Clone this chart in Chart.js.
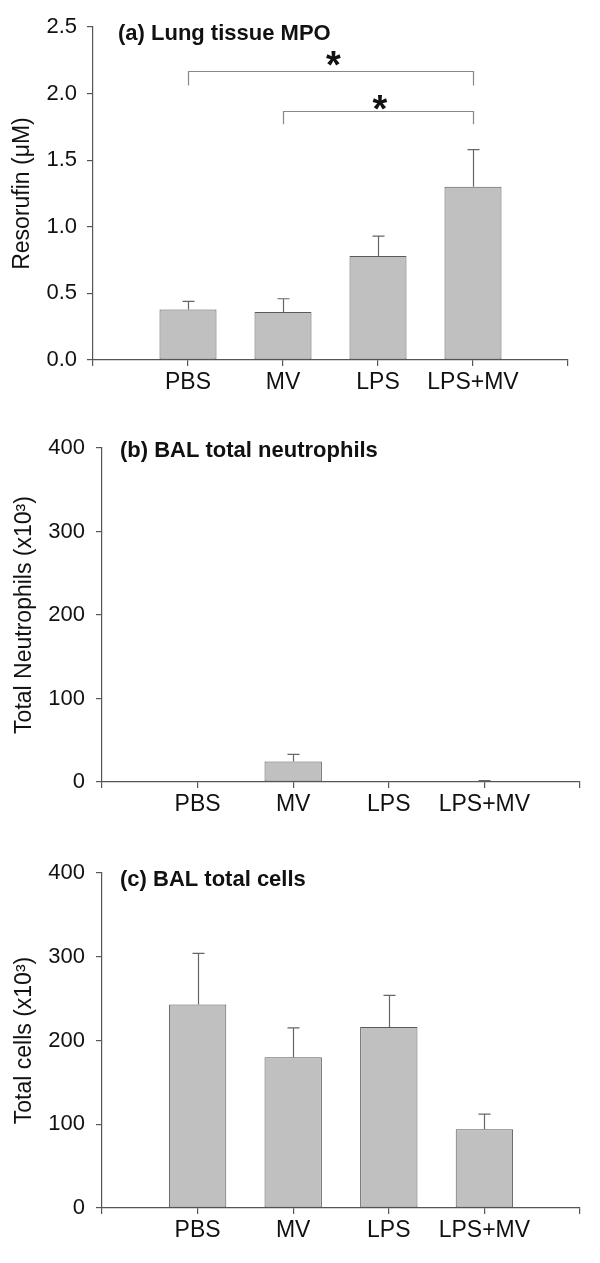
<!DOCTYPE html>
<html>
<head>
<meta charset="utf-8">
<script src="https://cdn.jsdelivr.net/npm/chart.js@4"></script>
<style>
  html, body { margin: 0; padding: 0; background: #fff; }
  #wrap { position: relative; width: 600px; height: 1263px; }
  .panel { position: absolute; left: 0; width: 600px; }
</style>
</head>
<body>
<div id="wrap">
  <div class="panel" style="top:0px"><canvas id="chartMpo" width="600" height="415"></canvas></div>
  <div class="panel" style="top:415px"><canvas id="chartNeut" width="600" height="420"></canvas></div>
  <div class="panel" style="top:835px"><canvas id="chartCells" width="600" height="428"></canvas></div>
</div>
<script>
// Data
const categories = ["PBS", "MV", "LPS", "LPS+MV"];

const mpoMean = [0.38, 0.36, 0.78, 1.30];
const mpoErr = [0.06, 0.10, 0.15, 0.28];
const mpoTicks = [0, 0.5, 1.0, 1.5, 2.0, 2.5];

const neutMean = [0, 24.7, 0, 1.2];
const neutErr = [0, 8.3, 0, 0.4];

const cellsMean = [243, 180, 216, 94];
const cellsErr = [61, 35, 38, 18];
const countTicks = [0, 100, 200, 300, 400];

// significance brackets for panel (a): [from, to] category index, bar level, leg end
const mpoBracketPairs = [[0, 3], [1, 3]];
const mpoBracketLevel = [2.17, 1.87];
const mpoBracketLeg = [2.06, 1.77];
const mpoStarX = [2.53, 3.02];
const mpoStarY = [2.28, 1.95];

const FONT = "'Liberation Sans', Arial, sans-serif";
const AXIS_COLOR = "#555";

function makePanel(canvasId, cfg) {
    const el = document.getElementById(canvasId);
    if (!el) return;
    const H = el.height;
    const a = cfg.area;

    // error bars (upper only) + panel title + brackets
    const extras = {
        id: "extras_" + canvasId,
        afterDatasetsDraw(chart) {
            const ctx = chart.ctx;
            const xs = chart.scales.x, ys = chart.scales.y;
            ctx.save();
            ctx.strokeStyle = "#666";
            ctx.lineWidth = 1.2;
            cfg.means.forEach((m, i) => {
                if (!cfg.errs[i]) return;
                const px = Math.round(xs.getPixelForValue(i + 1)) + 0.5;
                const y0 = ys.getPixelForValue(m);
                const y1 = ys.getPixelForValue(m + cfg.errs[i]);
                ctx.beginPath();
                ctx.moveTo(px, y0);
                ctx.lineTo(px, y1);
                ctx.moveTo(px - 6, y1);
                ctx.lineTo(px + 6, y1);
                ctx.stroke();
            });

            if (cfg.brackets) {
                const b = cfg.brackets;
                ctx.strokeStyle = "#888";
                ctx.lineWidth = 1.2;
                b.pairs.forEach((p, k) => {
                    const xa = Math.round(xs.getPixelForValue(p[0] + 1)) + 0.5;
                    const xb = Math.round(xs.getPixelForValue(p[1] + 1)) + 0.5;
                    const yl = Math.round(ys.getPixelForValue(b.level[k])) + 0.5;
                    const yg = ys.getPixelForValue(b.leg[k]);
                    ctx.beginPath();
                    ctx.moveTo(xa, yg);
                    ctx.lineTo(xa, yl);
                    ctx.lineTo(xb, yl);
                    ctx.lineTo(xb, yg);
                    ctx.stroke();
                    ctx.fillStyle = "#111";
                    ctx.font = "bold 38px " + FONT;
                    ctx.textAlign = "center";
                    ctx.textBaseline = "alphabetic";
                    ctx.fillText("*", xs.getPixelForValue(b.starX[k]), ys.getPixelForValue(b.starY[k]) + 0.58 * 38);
                });
            }

            ctx.fillStyle = "#111";
            ctx.font = "bold 22px " + FONT;
            ctx.textAlign = "left";
            ctx.textBaseline = "middle";
            ctx.fillText(cfg.title, chart.chartArea.left + cfg.titleDx, chart.chartArea.top + cfg.titleDy);
            ctx.restore();
        }
    };

    new Chart(el, {
        type: "bar",
        data: {
            datasets: [{
                data: cfg.means.map((v, i) => ({ x: i + 1, y: v })),
                backgroundColor: "#c0c0c0",
                borderColor: "#5a5a5a",
                borderWidth: 1,
                borderSkipped: false,
                categoryPercentage: 1,
                barPercentage: 0.6
            }]
        },
        options: {
            responsive: false,
            animation: false,
            devicePixelRatio: 1,
            layout: {
                padding: { top: a.top, right: 600 - a.right, left: 0, bottom: 0 }
            },
            plugins: {
                legend: { display: false },
                tooltip: { enabled: false }
            },
            scales: {
                x: {
                    type: "linear",
                    offset: false,
                    min: 0,
                    max: categories.length + 1,
                    afterBuildTicks: (s) => {
                        s.ticks = [0, 1, 2, 3, 4, 5].map(v => ({ value: v }));
                    },
                    afterFit: (s) => { s.height = H - a.bottom; },
                    border: { color: AXIS_COLOR, width: 1.2 },
                    grid: { offset: false, drawOnChartArea: false, drawTicks: true, tickLength: 6, color: AXIS_COLOR, lineWidth: 1.2 },
                    ticks: {
                        autoSkip: false,
                        maxRotation: 0,
                        padding: 3,
                        color: "#111",
                        font: { family: FONT, size: 23 },
                        callback: (v) => categories[v - 1] || ""
                    }
                },
                y: {
                    min: cfg.yTicks[0],
                    max: cfg.yTicks[cfg.yTicks.length - 1],
                    afterBuildTicks: (s) => {
                        s.ticks = cfg.yTicks.map(v => ({ value: v }));
                    },
                    afterFit: (s) => { s.width = a.left; },
                    border: { color: AXIS_COLOR, width: 1.2 },
                    grid: { drawOnChartArea: false, drawTicks: true, tickLength: 6, color: AXIS_COLOR, lineWidth: 1.2 },
                    ticks: {
                        padding: cfg.yPad,
                        color: "#111",
                        font: { family: FONT, size: 22 },
                        callback: cfg.yFormat
                    },
                    title: {
                        display: true,
                        text: cfg.yTitle,
                        color: "#111",
                        font: { family: FONT, size: 23 },
                        padding: { top: cfg.yTitlePad, bottom: 0 }
                    }
                }
            }
        },
        plugins: [extras]
    });
}

makePanel("chartMpo", {
    means: mpoMean,
    errs: mpoErr,
    yTicks: mpoTicks,
    yFormat: (v) => v.toFixed(1),
    yTitle: "Resorufin (\u03BCM)",
    title: "(a) Lung tissue MPO",
    area: { top: 27, left: 93, right: 568, bottom: 360 },
    yPad: 10,
    yTitlePad: 9,
    titleDx: 25,
    titleDy: 7,
    brackets: {
        pairs: mpoBracketPairs,
        level: mpoBracketLevel,
        leg: mpoBracketLeg,
        starX: mpoStarX,
        starY: mpoStarY
    }
});

makePanel("chartNeut", {
    means: neutMean,
    errs: neutErr,
    yTicks: countTicks,
    yFormat: (v) => String(v),
    yTitle: "Total Neutrophils (x10\u00B3)",
    title: "(b) BAL total neutrophils",
    area: { top: 33, left: 102, right: 580, bottom: 367 },
    yPad: 11,
    yTitlePad: 11,
    titleDx: 18,
    titleDy: 3
});

makePanel("chartCells", {
    means: cellsMean,
    errs: cellsErr,
    yTicks: countTicks,
    yFormat: (v) => String(v),
    yTitle: "Total cells (x10\u00B3)",
    title: "(c) BAL total cells",
    area: { top: 38, left: 102, right: 580, bottom: 373 },
    yPad: 11,
    yTitlePad: 11,
    titleDx: 18,
    titleDy: 7
});
</script>
</body>
</html>
